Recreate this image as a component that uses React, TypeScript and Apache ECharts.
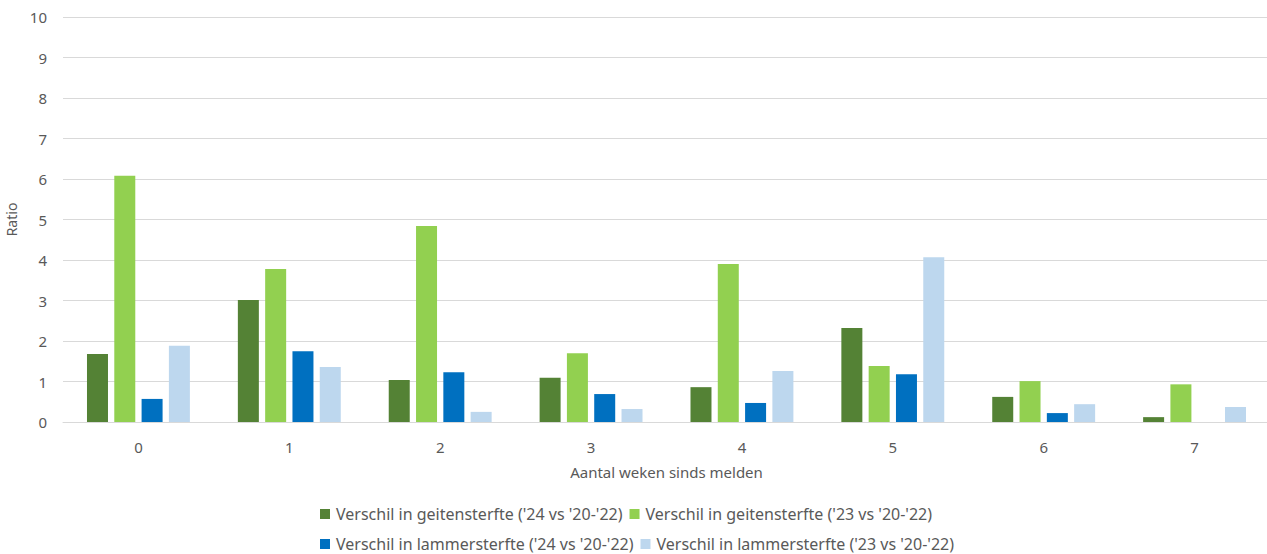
import React, { useEffect, useRef } from "react";
import * as echarts from "echarts";

const categories = ["0", "1", "2", "3", "4", "5", "6", "7"];
const yTicks = [0, 1, 2, 3, 4, 5, 6, 7, 8, 9, 10];
const seriesNames = [
  "Verschil in geitensterfte ('24 vs '20-'22)",
  "Verschil in geitensterfte ('23 vs '20-'22)",
  "Verschil in lammersterfte ('24 vs '20-'22)",
  "Verschil in lammersterfte ('23 vs '20-'22)",
];
const geit24 = [1.68, 3.01, 1.04, 1.09, 0.86, 2.32, 0.62, 0.12];
const geit23 = [6.08, 3.78, 4.84, 1.7, 3.9, 1.38, 1.01, 0.93];
const lam24 = [0.57, 1.75, 1.23, 0.69, 0.47, 1.18, 0.22, 0];
const lam23 = [1.88, 1.36, 0.25, 0.32, 1.26, 4.07, 0.44, 0.37];
const colors = ["#548235", "#92D050", "#0070C0", "#BDD7EE"];

export default function App() {
  const ref = useRef<HTMLDivElement>(null);
  useEffect(() => {
    if (!ref.current) return;
    const chart = echarts.init(ref.current, null, { renderer: "svg" });
    const font = "'Noto Sans', sans-serif";
    const data = [geit24, geit23, lam24, lam23];
    const legendCommon = {
      left: 320,
      padding: 0,
      itemWidth: 10,
      itemHeight: 10,
      itemGap: 7,
      icon: "rect",
      textStyle: { color: "#595959", fontSize: 16, fontFamily: font, padding: [0, 0, 0, 1] },
      selectedMode: false as const,
    };
    chart.setOption({
      animation: false,
      color: colors,
      grid: { left: 63, right: -3, top: 17, bottom: 132, outerBoundsMode: "none", containLabel: false },
      legend: [
        { ...legendCommon, top: 506, data: [seriesNames[0], seriesNames[1]] },
        { ...legendCommon, top: 536, data: [seriesNames[2], seriesNames[3]] },
      ],
      xAxis: {
        type: "category",
        data: categories,
        name: "Aantal weken sinds melden",
        nameLocation: "middle",
        nameGap: 42,
        nameTextStyle: { color: "#595959", fontSize: 15, fontFamily: font },
        axisLine: { lineStyle: { color: "#d9d9d9", width: 1 } },
        axisTick: { show: false },
        axisLabel: { color: "#595959", fontSize: 15, fontFamily: font, margin: 17 },
      },
      yAxis: {
        type: "value",
        min: yTicks[0],
        max: yTicks[yTicks.length - 1],
        interval: 1,
        name: "Ratio",
        nameLocation: "middle",
        nameGap: 42,
        nameRotate: 90,
        nameTextStyle: { color: "#595959", fontSize: 14, fontFamily: font },
        axisLine: { show: false },
        axisTick: { show: false },
        axisLabel: { color: "#595959", fontSize: 15, fontFamily: font, margin: 16 },
        splitLine: { lineStyle: { color: "#d9d9d9", width: 1 } },
      },
      series: data.map((d, i) => ({
        name: seriesNames[i],
        type: "bar",
        data: d,
        barWidth: 21,
        barGap: "30%",
        itemStyle: { color: colors[i] },
      })),
    });
    return () => chart.dispose();
  }, []);
  return (
    <div
      ref={ref}
      style={{ position: "absolute", left: 0, top: 0, width: 1267, height: 554 }}
    />
  );
}
